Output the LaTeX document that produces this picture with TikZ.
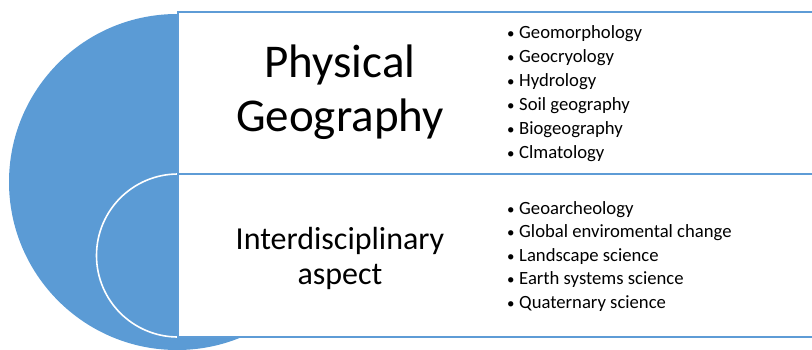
\documentclass[tikz,border=0pt]{standalone}
\usepackage{fontspec}
\setmainfont{Carlito}
\definecolor{obl}{HTML}{5B9BD5}
\definecolor{obr}{HTML}{5E9CD6}
\begin{document}
\begin{tikzpicture}[x=1pt,y=-1pt,
  panel/.style={fill=white,draw=obr,line width=1.8pt},
  bigtxt/.style={anchor=base,inner sep=0pt,font=\fontsize{47}{53}\selectfont},
  midtxt/.style={anchor=base,inner sep=0pt,font=\fontsize{32}{35}\selectfont},
  item/.style={anchor=base west,inner sep=0pt,font=\fontsize{18.67}{22}\selectfont}]
\useasboundingbox (0,0) rectangle (812,349);
\clip (0,0) rectangle (812,349);
\fill[obl] (177,182) circle[radius=168];
\fill[obl] (178,255.5) circle[radius=81.5];
\draw[white,line width=1.6pt] (178,255.5) circle[radius=81.5];
\draw[panel] (178,12) rectangle (830,174);
\draw[panel] (178,174) rectangle (830,337);
\node[bigtxt] (p1) at (340,77.5) {Physical};
\node[bigtxt] (p2) at (340,131) {Geography};
\node[midtxt] (i1) at (340,249.3) {Interdisciplinary};
\node[midtxt] (i2) at (340,284) {aspect};
\foreach \t [count=\i] in {Geomorphology,Geocryology,Hydrology,Soil geography,Biogeography,Clmatology}
  \node[item] (a\i) at (507,{38.3+24.1*(\i-1)}) {\makebox[12pt][l]{\scalebox{0.8}{•}}\t};
\foreach \t [count=\i] in {Geoarcheology,Global enviromental change,Landscape science,Earth systems science,Quaternary science}
  \node[item] (b\i) at (507,{214.5+23.4*(\i-1)}) {\makebox[12pt][l]{\scalebox{0.8}{•}}\t};
\end{tikzpicture}
\end{document}
